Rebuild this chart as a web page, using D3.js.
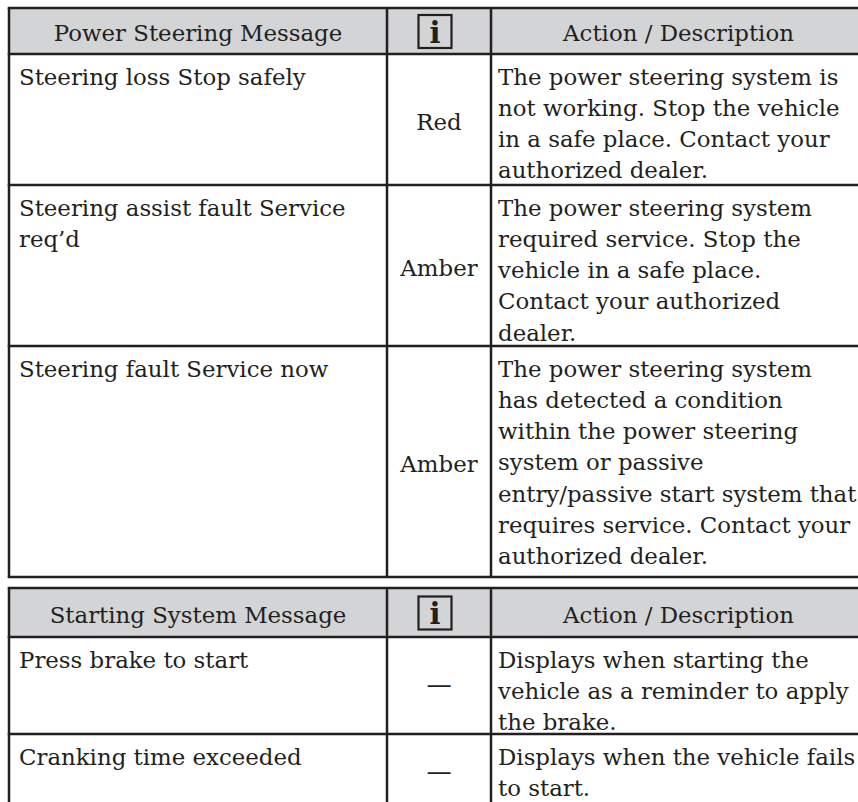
<!DOCTYPE html>
<html><head><meta charset="utf-8">
<script src="https://cdn.jsdelivr.net/npm/d3@7"></script>
<style>html,body{margin:0;padding:0;background:#fff;overflow:hidden}svg{display:block}</style>
</head><body><div id="chart"></div>
<script>
// ---- data ----
const headers1 = ["Power Steering Message", "i", "Action / Description"];
const messages1 = [
  ["Steering loss Stop safely"],
  ["Steering assist fault Service", "req’d"],
  ["Steering fault Service now"]
];
const indicators1 = ["Red", "Amber", "Amber"];
const descriptions1 = [
  ["The power steering system is", "not working. Stop the vehicle", "in a safe place. Contact your", "authorized dealer."],
  ["The power steering system", "required service. Stop the", "vehicle in a safe place.", "Contact your authorized", "dealer."],
  ["The power steering system", "has detected a condition", "within the power steering", "system or passive", "entry/passive start system that", "requires service. Contact your", "authorized dealer."]
];
const headers2 = ["Starting System Message", "i", "Action / Description"];
const messages2 = [["Press brake to start"], ["Cranking time exceeded"]];
const indicators2 = ["—", "—"];
const descriptions2 = [
  ["Displays when starting the", "vehicle as a reminder to apply", "the brake."],
  ["Displays when the vehicle fails", "to start."]
];

// ---- layout ----
const W = 858, H = 802;
const FONT = "'DejaVu Serif', serif";
const INK = "#231f20";
const HEADFILL = "#d3d4d6";
const colX = d3.scaleOrdinal().domain(["msg", "ind", "desc", "end"]).range([9, 387, 491, 870]);
const lineY = d3.scaleLinear().domain([0, 1]).range([0, 31.3]);

const svg = d3.select("#chart").append("svg").attr("width", W).attr("height", H)
  .style("font-family", FONT);

// fit font size so the widest description line stays inside the page
let FS = 23.2;
{
  const probe = svg.append("text").attr("font-size", FS);
  const all = descriptions1.concat(descriptions2).flat();
  let maxW = 0;
  all.forEach(s => { probe.text(s); maxW = Math.max(maxW, probe.node().getComputedTextLength()); });
  probe.remove();
  const avail = W - (colX("desc") + 7) - 1.5;
  if (maxW > avail) FS = FS * avail / maxW;
}

const tables = [
  {headers: headers1, messages: messages1, indicators: indicators1, descriptions: descriptions1,
   top: 8, headerH: 46, rowH: [131, 161, 231], closed: true},
  {headers: headers2, messages: messages2, indicators: indicators2, descriptions: descriptions2,
   top: 588, headerH: 49, rowH: [97, 78], closed: false}
];

tables.forEach(t => {
  const g = svg.append("g");
  const bounds = [t.top, t.top + t.headerH];
  t.rowH.forEach(h => bounds.push(bounds[bounds.length - 1] + h));
  const bottom = bounds[bounds.length - 1];

  // header background
  g.append("rect").attr("x", colX("msg")).attr("y", t.top)
    .attr("width", colX("end") - colX("msg")).attr("height", t.headerH).attr("fill", HEADFILL);

  // header text
  const hc = t.top + t.headerH / 2;
  g.append("text").attr("x", (colX("msg") + colX("ind")) / 2).attr("y", hc + 10)
    .attr("text-anchor", "middle").attr("font-size", FS).attr("fill", INK).text(t.headers[0]);
  g.append("text").attr("x", (colX("desc") + W) / 2 + 4).attr("y", hc + 10)
    .attr("text-anchor", "middle").attr("font-size", FS).attr("fill", INK).text(t.headers[2]);
  // info icon
  const ic = (colX("ind") + colX("desc")) / 2 - 4;
  g.append("rect").attr("x", ic - 16.5).attr("y", hc - 16).attr("width", 33).attr("height", 33)
    .attr("fill", "none").attr("stroke", INK).attr("stroke-width", 2.2);
  g.append("text").attr("x", ic).attr("y", hc + 11.5).attr("text-anchor", "middle")
    .attr("font-size", 29).attr("font-weight", "bold").attr("fill", INK).text(t.headers[1]);

  // rows
  t.rowH.forEach((h, i) => {
    const y0 = bounds[i + 1];
    const first = y0 + 30.5;
    g.append("g").selectAll("text").data(t.messages[i]).join("text")
      .attr("x", colX("msg") + 10).attr("y", (d, k) => first + lineY(k))
      .attr("font-size", FS).attr("fill", INK).text(d => d);
    g.append("g").selectAll("text").data(t.descriptions[i]).join("text")
      .attr("x", colX("desc") + 7).attr("y", (d, k) => first + lineY(k))
      .attr("font-size", FS).attr("fill", INK).text(d => d);
    const isDash = t.indicators[i] === "—";
    g.append("text").attr("x", (colX("ind") + colX("desc")) / 2)
      .attr("y", y0 + h / 2 + (isDash ? 7 : 10.5))
      .attr("text-anchor", "middle").attr("font-size", isDash ? FS * 1.1 : FS)
      .attr("fill", INK).text(t.indicators[i]);
  });

  // horizontal rules
  const hs = t.closed ? bounds : bounds.slice(0, -1);
  g.append("g").selectAll("line").data(hs).join("line")
    .attr("x1", colX("msg") - 1.25).attr("x2", W).attr("y1", d => d).attr("y2", d => d)
    .attr("stroke", INK).attr("stroke-width", 2.5);
  // vertical rules
  g.append("g").selectAll("line").data(["msg", "ind", "desc"]).join("line")
    .attr("x1", d => colX(d)).attr("x2", d => colX(d))
    .attr("y1", t.top).attr("y2", t.closed ? bottom : H)
    .attr("stroke", INK).attr("stroke-width", 2.5);
});
</script></body></html>
